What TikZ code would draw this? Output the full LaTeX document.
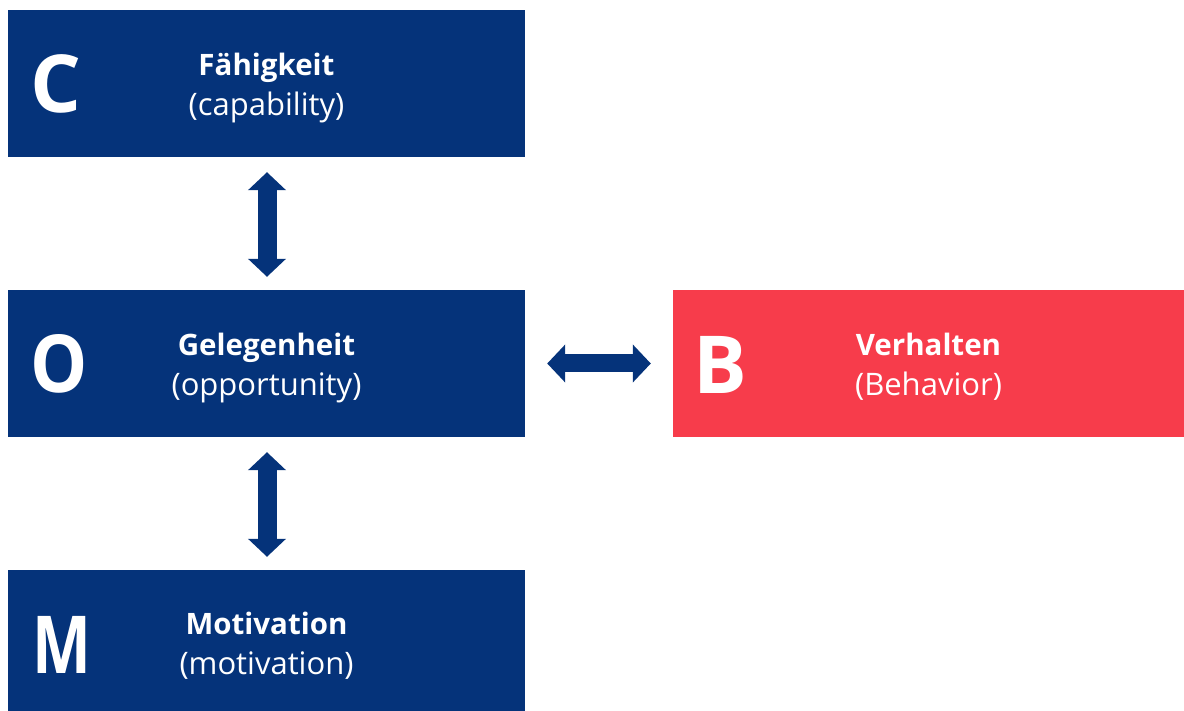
\documentclass[tikz,border=0pt]{standalone}
\usepackage{fontspec}
\setmainfont{Open Sans}
\usetikzlibrary{arrows.meta}
\definecolor{cblue}{HTML}{05337A}
\definecolor{cred}{HTML}{F73C4B}
\begin{document}
\begin{tikzpicture}[x=1pt,y=-1pt,
  box/.style={rectangle, inner sep=0pt, minimum height=147pt, fill=#1},
  letter/.style={text=white, font=\fontsize{80}{80}\selectfont\bfseries, inner sep=0pt},
  titletext/.style={text=white, font=\fontsize{29.5}{36}\selectfont\bfseries, anchor=base, inner sep=0pt},
  subtext/.style={text=white, font=\fontsize{31}{36}\selectfont, anchor=base, inner sep=0pt},
  dblarrow/.style={draw=cblue, line width=19pt,
    {Triangle[width=37pt,length=18pt]}-{Triangle[width=37pt,length=18pt]}}]
\useasboundingbox (0,0) rectangle (1184,711);
\clip (0,0) rectangle (1184,711);
\fill[white] (0,0) rectangle (1184,711);
% boxes
\node[box=cblue, minimum width=517pt] (c) at (266.5,83.5) {};
\node[box=cblue, minimum width=517pt] (o) at (266.5,363.5) {};
\node[box=cblue, minimum width=517pt] (m) at (266.5,643.5) {};
\node[box=cred, minimum width=511pt] (b) at (928.5,363.5) {};
% big letters
\node[letter] (cl) at (55.5,84) {C};
\node[letter, transform shape, xscale=0.9] (ol) at (59,364) {O};
\node[letter, transform shape, xscale=0.78] (ml) at (62,645) {M};
\node[letter] (bl) at (720,365) {B};
% texts
\node[titletext] (ct) at ([yshift=-66pt]c.north) {Fähigkeit};
\node[subtext] (cs) at ([yshift=-106pt]c.north) {(capability)};
\node[titletext] (ot) at ([yshift=-66pt]o.north) {Gelegenheit};
\node[subtext] (os) at ([yshift=-106pt]o.north) {(opportunity)};
\node[titletext] (mt) at ([yshift=-65pt]m.north) {Motivation};
\node[subtext] (ms) at ([yshift=-105pt]m.north) {(motivation)};
\node[titletext] (bt) at ([yshift=-66pt]b.north) {Verhalten};
\node[subtext] (bs) at ([yshift=-106pt]b.north) {(Behavior)};
% arrows
\draw[dblarrow] ([xshift=0.5pt,yshift=-15pt]c.south) -- ([xshift=0.5pt,yshift=13pt]o.north);
\draw[dblarrow] ([xshift=0.5pt,yshift=-15pt]o.south) -- ([xshift=0.5pt,yshift=13pt]m.north);
\draw[dblarrow, line width=18pt] ([xshift=22pt]o.east) -- ([xshift=-22pt]b.west);
\end{tikzpicture}
\end{document}
